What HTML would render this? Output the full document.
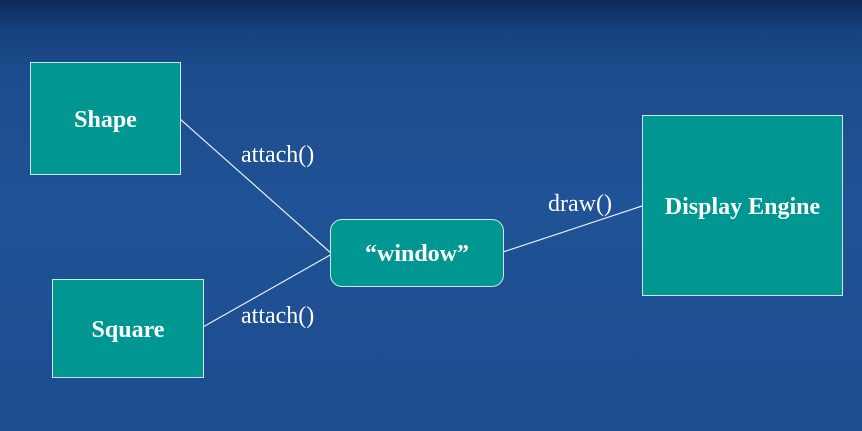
<!DOCTYPE html>
<html><head><style>
html,body{margin:0;padding:0;}
body{width:862px;height:431px;position:relative;overflow:hidden;
background:linear-gradient(180deg,#0b2a58 0px,#16427d 30px,#1c4c8c 70px,#1f5296 200px,#1d4d8f 431px);
font-family:"Liberation Serif",serif;color:#fff;}
.b{position:absolute;background:#009691;border:1px solid #cfe6e6;box-sizing:border-box;padding-top:3px;
display:flex;align-items:center;justify-content:center;font-weight:bold;font-size:24px;}
.l{position:absolute;font-size:24px;line-height:28px;}
svg{position:absolute;left:0;top:0;}
</style></head><body>
<svg width="862" height="431"><g stroke="#e6eef6" stroke-width="1.2">
<line x1="180" y1="119" x2="332" y2="254"/>
<line x1="203" y1="327" x2="332" y2="254"/>
<line x1="503" y1="252" x2="642" y2="206"/>
</g></svg>
<div class="b" style="left:30px;top:62px;width:151px;height:113px">Shape</div>
<div class="b" style="left:52px;top:279px;width:152px;height:99px">Square</div>
<div class="b" style="left:330px;top:219px;width:174px;height:68px;border-radius:12px">“window”</div>
<div class="b" style="left:642px;top:115px;width:201px;height:181px">Display Engine</div>
<div class="l" style="left:241px;top:141px">attach()</div>
<div class="l" style="left:241px;top:302px">attach()</div>
<div class="l" style="left:548px;top:190px">draw()</div>
</body></html>
